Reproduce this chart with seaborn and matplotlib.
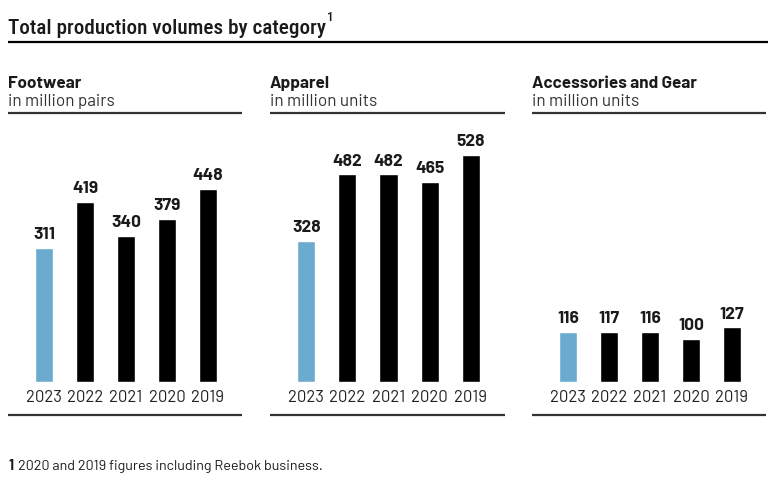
import matplotlib
matplotlib.use("Agg")
import matplotlib.pyplot as plt
from matplotlib.lines import Line2D
import seaborn as sns

categories = ["Footwear", "Apparel", "Accessories and Gear"]
units = ["in million pairs", "in million units", "in million units"]
years = ["2023", "2022", "2021", "2020", "2019"]
footwear = [311, 419, 340, 379, 448]
apparel = [328, 482, 482, 465, 528]
accessories = [116, 117, 116, 100, 127]
series = [footwear, apparel, accessories]

title = "Total production volumes by category"
footnote = "2020 and 2019 figures including Reebok business."

BLUE = "#6aabcf"
BLACK = "#000000"
TEXT = "#1a1a1a"
W, H = 780, 486

BODY = ["Barlow", "Roboto", "DejaVu Sans"]
COND = ["Roboto Condensed", "Barlow Semi Condensed", "DejaVu Sans"]

sns.set_theme(style="white")
plt.rcParams["font.family"] = BODY

fig = plt.figure(figsize=(W / 100, H / 100), dpi=100)

def fx(x):
    return x / W

def fy(y):
    return 1 - y / H

def hline(x0, x1, y, lw=1.6, color="#222222"):
    fig.add_artist(Line2D([fx(x0), fx(x1)], [fy(y), fy(y)], transform=fig.transFigure,
                          color=color, lw=lw, solid_capstyle="butt"))

t = fig.text(fx(8), fy(34), title, fontsize=15.2, family=COND, fontweight="medium",
             color=TEXT, va="baseline", ha="left")
fig.canvas.draw()
bb = t.get_window_extent()
fig.text(bb.x1 / W + 1 / W, fy(21), "1", fontsize=9.5, family=COND, fontweight="medium",
         color=TEXT, va="baseline", ha="left")
hline(8, 768, 42, lw=1.6, color="#000000")

panels_x = [(8, 242), (270, 505), (532, 766)]
palette = [BLUE] + [BLACK] * 4
top_px, base_px = 130, 382

for (x0, x1), cat, unit, vals in zip(panels_x, categories, units, series):
    fig.text(fx(x0), fy(88), cat, fontsize=12.3, fontweight="bold", color=TEXT, va="baseline")
    fig.text(fx(x0), fy(106), unit, fontsize=12.3, color="#333333", va="baseline")
    hline(x0, x1, 113, lw=1.6, color="#333333")
    hline(x0, x1, 415, lw=1.6, color="#333333")

    ax = fig.add_axes([fx(x0), fy(base_px), fx(x1) - fx(x0), (base_px - top_px) / H])
    sns.barplot(x=years, y=vals, hue=years, palette=palette, order=years,
                width=0.44, legend=False, ax=ax, saturation=1)
    ax.set_xlim(-0.88, 4.83)
    ax.set_ylim(0, 585)
    for c in ax.containers:
        ax.bar_label(c, fmt="%d", padding=4, fontsize=12.5, fontweight="bold", color=TEXT)
    ax.set_yticks([])
    ax.set_xlabel("")
    ax.set_ylabel("")
    ax.tick_params(axis="x", length=0, pad=6, labelsize=12, labelcolor="#222222")
    for s in ax.spines.values():
        s.set_visible(False)
    ax.patch.set_alpha(0)

fig.text(fx(8), fy(470), "1", fontsize=10.3, fontweight="bold", color=TEXT, va="baseline")
fig.text(fx(18), fy(470), footnote, fontsize=10.3, color=TEXT, va="baseline")

fig.savefig("out.png", dpi=100)
